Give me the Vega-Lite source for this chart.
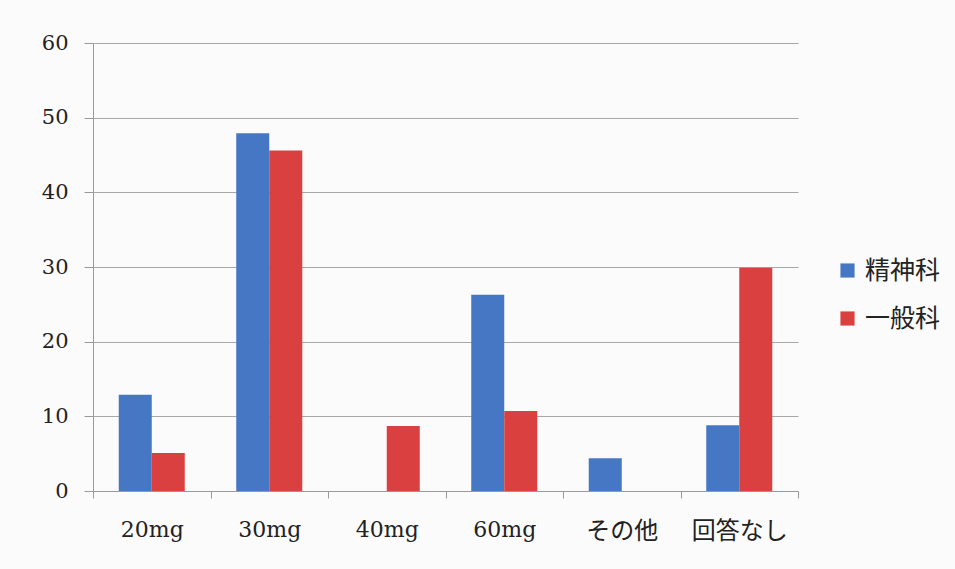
{
  "$schema": "https://vega.github.io/schema/vega-lite/v6.json",
  "autosize": "none",
  "width": 705,
  "height": 448,
  "padding": {"left": 93, "top": 43, "right": 157, "bottom": 78},
  "background": "#fbfbfb",
  "data": {
    "values": [
      {"dose": "20mg", "dept": "精神科", "value": 12.9},
      {"dose": "20mg", "dept": "一般科", "value": 5.1},
      {"dose": "30mg", "dept": "精神科", "value": 47.9},
      {"dose": "30mg", "dept": "一般科", "value": 45.6},
      {"dose": "40mg", "dept": "精神科", "value": 0},
      {"dose": "40mg", "dept": "一般科", "value": 8.7},
      {"dose": "60mg", "dept": "精神科", "value": 26.3},
      {"dose": "60mg", "dept": "一般科", "value": 10.7},
      {"dose": "その他", "dept": "精神科", "value": 4.4},
      {"dose": "その他", "dept": "一般科", "value": 0},
      {"dose": "回答なし", "dept": "精神科", "value": 8.8},
      {"dose": "回答なし", "dept": "一般科", "value": 29.9}
    ]
  },
  "mark": {"type": "bar"},
  "encoding": {
    "x": {
      "field": "dose",
      "type": "nominal",
      "sort": ["20mg", "30mg", "40mg", "60mg", "その他", "回答なし"],
      "scale": {"paddingInner": 0, "paddingOuter": 0},
      "axis": {
        "title": null,
        "labelAngle": 0,
        "tickBand": "extent",
        "tickSize": 7,
        "tickColor": "#9a9a9a",
        "domainColor": "#9a9a9a",
        "labelFont": "DejaVu Serif, Noto Sans CJK JP",
        "labelFontSize": {"expr": "test(/mg/, datum.label) ? 22 : 24"},
        "labelColor": "#222222",
        "labelPadding": 21
      }
    },
    "xOffset": {
      "field": "dept",
      "sort": ["精神科", "一般科"],
      "scale": {"paddingInner": 0, "paddingOuter": 0.78}
    },
    "y": {
      "field": "value",
      "type": "quantitative",
      "scale": {"domain": [0, 60]},
      "axis": {
        "title": null,
        "values": [0, 10, 20, 30, 40, 50, 60],
        "grid": true,
        "gridColor": "#a8a8a8",
        "gridWidth": 1,
        "tickSize": 9,
        "tickColor": "#9a9a9a",
        "domain": true,
        "domainColor": "#9a9a9a",
        "labelFont": "DejaVu Serif",
        "labelFontSize": 21,
        "labelColor": "#222222",
        "labelPadding": 16
      }
    },
    "color": {
      "field": "dept",
      "type": "nominal",
      "sort": ["精神科", "一般科"],
      "scale": {"domain": ["精神科", "一般科"], "range": ["#4677c4", "#d9403f"]},
      "legend": {
        "title": null,
        "orient": "none",
        "legendX": 742,
        "legendY": 215,
        "symbolType": "square",
        "symbolSize": 200,
        "symbolStrokeWidth": 0,
        "labelFont": "Noto Sans CJK JP",
        "labelFontSize": 25,
        "labelColor": "#222222",
        "rowPadding": 22,
        "labelOffset": 5
      }
    }
  },
  "config": {
    "view": {"stroke": null},
    "bar": {"stroke": null}
  }
}
